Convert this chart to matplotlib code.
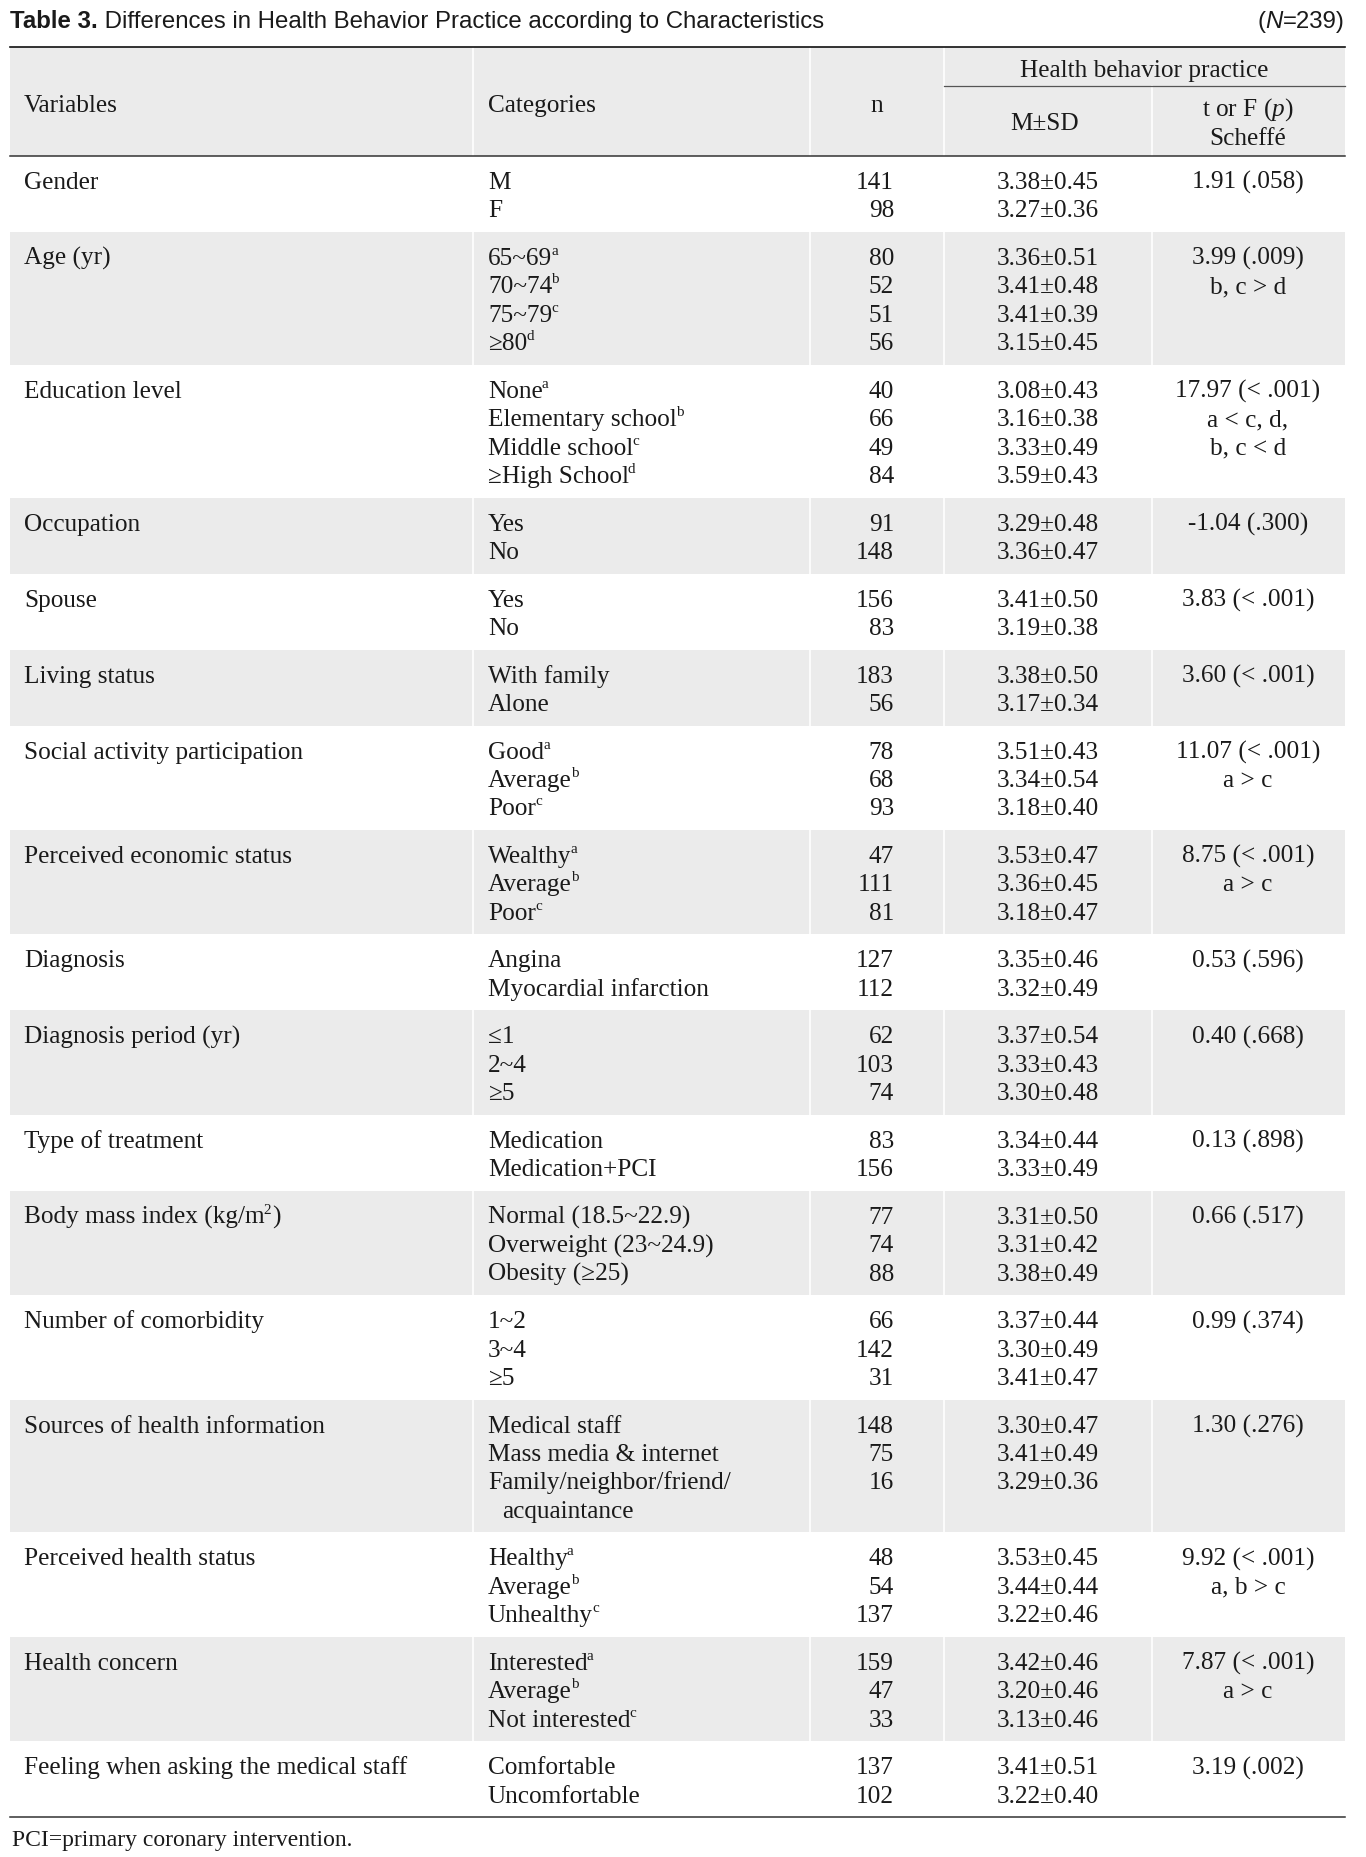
import matplotlib
matplotlib.use("Agg")
import matplotlib.pyplot as plt
from matplotlib.patches import Rectangle

plt.rcParams['font.family'] = ['Liberation Serif', 'DejaVu Serif']
plt.rcParams['mathtext.fontset'] = 'custom'
plt.rcParams['mathtext.rm'] = 'Liberation Serif'
plt.rcParams['mathtext.it'] = 'Liberation Serif:italic'

# ---- table data ("^x" marks a one-letter superscript) ----
variables = ["Gender", "Age (yr)", "Education level", "Occupation", "Spouse",
             "Living status", "Social activity participation",
             "Perceived economic status", "Diagnosis", "Diagnosis period (yr)",
             "Type of treatment", "Body mass index (kg/m^2)",
             "Number of comorbidity", "Sources of health information",
             "Perceived health status", "Health concern",
             "Feeling when asking the medical staff"]

categories = [
    ["M", "F"],
    ["65~69^a", "70~74^b", "75~79^c", "≥80^d"],
    ["None^a", "Elementary school^b", "Middle school^c", "≥High School^d"],
    ["Yes", "No"],
    ["Yes", "No"],
    ["With family", "Alone"],
    ["Good^a", "Average^b", "Poor^c"],
    ["Wealthy^a", "Average^b", "Poor^c"],
    ["Angina", "Myocardial infarction"],
    ["≤1", "2~4", "≥5"],
    ["Medication", "Medication+PCI"],
    ["Normal (18.5~22.9)", "Overweight (23~24.9)", "Obesity (≥25)"],
    ["1~2", "3~4", "≥5"],
    ["Medical staff", "Mass media & internet", "Family/neighbor/friend/\nacquaintance"],
    ["Healthy^a", "Average^b", "Unhealthy^c"],
    ["Interested^a", "Average^b", "Not interested^c"],
    ["Comfortable", "Uncomfortable"],
]

counts = [[141, 98], [80, 52, 51, 56], [40, 66, 49, 84], [91, 148], [156, 83],
          [183, 56], [78, 68, 93], [47, 111, 81], [127, 112], [62, 103, 74],
          [83, 156], [77, 74, 88], [66, 142, 31], [148, 75, 16], [48, 54, 137],
          [159, 47, 33], [137, 102]]

means = [[3.38, 3.27], [3.36, 3.41, 3.41, 3.15], [3.08, 3.16, 3.33, 3.59],
         [3.29, 3.36], [3.41, 3.19], [3.38, 3.17], [3.51, 3.34, 3.18],
         [3.53, 3.36, 3.18], [3.35, 3.32], [3.37, 3.33, 3.30], [3.34, 3.33],
         [3.31, 3.31, 3.38], [3.37, 3.30, 3.41], [3.30, 3.41, 3.29],
         [3.53, 3.44, 3.22], [3.42, 3.20, 3.13], [3.41, 3.22]]

sds = [[0.45, 0.36], [0.51, 0.48, 0.39, 0.45], [0.43, 0.38, 0.49, 0.43],
       [0.48, 0.47], [0.50, 0.38], [0.50, 0.34], [0.43, 0.54, 0.40],
       [0.47, 0.45, 0.47], [0.46, 0.49], [0.54, 0.43, 0.48], [0.44, 0.49],
       [0.50, 0.42, 0.49], [0.44, 0.49, 0.47], [0.47, 0.49, 0.36],
       [0.45, 0.44, 0.46], [0.46, 0.46, 0.46], [0.51, 0.40]]

stats = [["1.91 (.058)"], ["3.99 (.009)", "b, c > d"],
         ["17.97 (< .001)", "a < c, d,", "b, c < d"], ["-1.04 (.300)"],
         ["3.83 (< .001)"], ["3.60 (< .001)"], ["11.07 (< .001)", "a > c"],
         ["8.75 (< .001)", "a > c"], ["0.53 (.596)"], ["0.40 (.668)"],
         ["0.13 (.898)"], ["0.66 (.517)"], ["0.99 (.374)"], ["1.30 (.276)"],
         ["9.92 (< .001)", "a, b > c"], ["7.87 (< .001)", "a > c"],
         ["3.19 (.002)"]]

title_bold = "Table 3."
title_text = " Differences in Health Behavior Practice according to Characteristics"
footnote = "PCI=primary coronary intervention."

# ---- layout (pixels) ----
W, H = 1366, 1857
L_X, R_X = 10, 1345
X_VAR, X_CAT, X_N, X_MSD, X_STAT = 24, 488, 894, 997, 1248
SEPS = [473, 810, 944, 1152]
ROW_H, PAD, TOP_OFF, BASE = 28.4, 19.2, 25, 8
HEAD_TOP, SUB_Y, HEAD_BOT = 47, 86, 156
GRAY = '#ebebeb'
INK = '#1a1a1a'
FS = 18.2
TFS = 17.3

fig = plt.figure(figsize=(W / 100, H / 100), dpi=100)
ax = fig.add_axes([0, 0, 1, 1])
ax.set_xlim(0, W)
ax.set_ylim(H, 0)
ax.axis('off')
renderer = fig.canvas.get_renderer()


def txt(x, yc, s, ha='left', size=FS, **kw):
    if '^' not in s:
        return ax.text(x, yc + BASE, s, ha=ha, va='baseline', fontsize=size,
                       color=INK, zorder=4, **kw)
    # left-aligned run with small raised letters
    cx = x
    parts = s.split('^')
    for i, p in enumerate(parts):
        if i > 0:
            sup, p = p[0], p[1:]
            t = ax.text(cx - 1, yc + BASE - 10, sup, ha='left', va='baseline',
                        fontsize=size * 0.6, color=INK, zorder=4)
            cx += t.get_window_extent(renderer).width
        if p:
            t = ax.text(cx, yc + BASE, p, ha='left', va='baseline', fontsize=size,
                        color=INK, zorder=4, **kw)
            cx += t.get_window_extent(renderer).width


# title, built from runs
t1 = ax.text(L_X, 28, title_bold, fontsize=TFS, family='Liberation Sans', weight='bold',
             va='baseline', color=INK)
w1 = t1.get_window_extent(renderer).width
ax.text(L_X + w1, 28, title_text, fontsize=TFS, family='Liberation Sans', va='baseline', color=INK)

n_parts = [("(", 'normal'), ("N", 'italic'), ("=239)", 'normal')]
objs = []
for s, st in n_parts:
    objs.append(ax.text(0, 28, s, fontsize=TFS, family='Liberation Sans', style=st,
                        va='baseline', color=INK))
widths = [o.get_window_extent(renderer).width for o in objs]
cx = R_X - sum(widths)
for o, w in zip(objs, widths):
    o.set_x(cx)
    cx += w

# header
ax.add_patch(Rectangle((L_X, HEAD_TOP), R_X - L_X, HEAD_BOT - HEAD_TOP, color=GRAY, lw=0, zorder=0))
for sx in SEPS[:3]:
    ax.plot([sx, sx], [HEAD_TOP, HEAD_BOT], color='white', lw=1.2, zorder=1)
ax.plot([SEPS[3], SEPS[3]], [SUB_Y, HEAD_BOT], color='white', lw=1.2, zorder=1)
ax.plot([L_X, R_X], [HEAD_TOP, HEAD_TOP], color='#111111', lw=1.2, zorder=3)
ax.plot([SEPS[2], R_X], [SUB_Y, SUB_Y], color='#555555', lw=0.9, zorder=3)
ax.plot([L_X, R_X], [HEAD_BOT, HEAD_BOT], color='#333333', lw=1.1, zorder=3)

txt(X_VAR, 104, "Variables")
txt(X_CAT, 104, "Categories")
txt(877, 104, "n", ha='center')
txt((SEPS[2] + R_X) / 2, 69, "Health behavior practice", ha='center')
txt(1045, 122, "M±SD", ha='center')
txt(X_STAT, 108, r"t or F ($\mathit{p}$)", ha='center')
txt(X_STAT, 137, "Scheffé", ha='center')

# body
y0 = HEAD_BOT
for gi, var in enumerate(variables):
    cat_lines = [c.split("\n") for c in categories[gi]]
    nlines = sum(len(c) for c in cat_lines)
    h = nlines * ROW_H + PAD
    if gi % 2 == 1:
        ax.add_patch(Rectangle((L_X, y0), R_X - L_X, h, color=GRAY, lw=0, zorder=0))
        for sx in SEPS:
            ax.plot([sx, sx], [y0, y0 + h], color='white', lw=1.2, zorder=1)
    txt(X_VAR, y0 + TOP_OFF, var)
    row = 0
    for ci, lines in enumerate(cat_lines):
        yc = y0 + TOP_OFF + row * ROW_H
        for li, ln in enumerate(lines):
            txt(X_CAT + (14 if li else 0), yc + li * ROW_H, ln)
        txt(X_N, yc, str(counts[gi][ci]), ha='right')
        txt(X_MSD, yc, f"{means[gi][ci]:.2f}±{sds[gi][ci]:.2f}")
        row += len(lines)
    for k, s in enumerate(stats[gi]):
        txt(X_STAT, y0 + TOP_OFF + k * ROW_H, s, ha='center')
    y0 += h

ax.plot([L_X, R_X], [y0, y0], color='#333333', lw=1.1, zorder=3)
txt(12, y0 + 21, footnote, size=17)

fig.savefig("out.png", dpi=100)
